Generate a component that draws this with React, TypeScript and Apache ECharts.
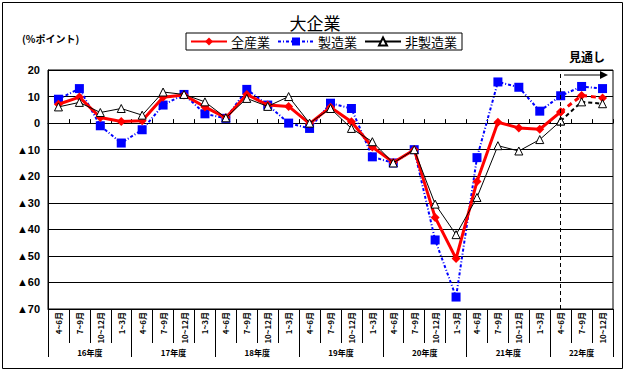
import React, { useEffect, useRef } from 'react';
import * as echarts from 'echarts';

const quarterLabels = ['4~6月', '7~9月', '10~12月', '1~3月'];
const yearLabels = ['16年度', '17年度', '18年度', '19年度', '20年度', '21年度', '22年度'];
const yearQuarterCounts = [4, 4, 4, 4, 4, 4, 3];
const categories = yearQuarterCounts.flatMap((n) => quarterLabels.slice(0, n));

const allIndustries = [7.1, 9.8, 2.1, 0.6, 0.9, 9.7, 10.6, 6.1, 2, 10.8, 6.8, 6.3, -0.2, 6, 0.5, -9, -14.8, -10, -35.5, -51, -22, 0.3, -1.8, -2.3, 4.2, 10.4, 9.5];
const manufacturing = [9, 13, -1, -7.5, -2.5, 6.8, 10.8, 3.5, 1.8, 12.7, 6.8, 0, -2, 7.5, 5.5, -12.7, -15, -10, -44, -65.5, -13, 15.5, 13.5, 4.5, 10.3, 13.8, 13];
const nonManufacturing = [6.1, 7.8, 4, 5.5, 3, 11.7, 10.8, 8, 2, 9.3, 6.3, 10, 0, 5.5, -2, -7, -15, -10, -30.5, -42, -28, -8.5, -10.5, -6.2, 0.8, 8, 7.3];

const forecastStart = 24;
const yMin = -70;
const yMax = 20;
const yInterval = 10;

const FONT = '"Noto Sans CJK JP", "Noto Sans", sans-serif';

const yearBoundaries: number[] = [0];
yearQuarterCounts.forEach((n) => yearBoundaries.push(yearBoundaries[yearBoundaries.length - 1] + n));
const yearCenters = yearQuarterCounts.map((n, i) => yearBoundaries[i] + n / 2);

const actual = (arr: number[]) => arr.map((v, i) => (i <= forecastStart ? v : null));
const forecast = (arr: number[]) => arr.map((v, i) => (i >= forecastStart ? v : null));

export default function App() {
  const ref = useRef<HTMLDivElement>(null);
  useEffect(() => {
    if (!ref.current) return;
    const chart = echarts.init(ref.current, undefined, { renderer: 'svg' });
    const red = '#ff0000';
    const blue = '#0000ff';
    const black = '#000000';
    chart.setOption({
      animation: false,
      backgroundColor: '#ffffff',
      textStyle: { fontFamily: FONT },
      title: {
        text: '大企業',
        left: 'center',
        top: 9,
        textStyle: { fontSize: 17, fontWeight: 'normal', color: '#000', fontFamily: FONT },
      },
      legend: {
        data: ['全産業', '製造業', '非製造業'],
        left: 186,
        top: 33,
        padding: [2, 5, 2, 4],
        borderColor: '#000',
        borderWidth: 1,
        itemWidth: 36,
        itemHeight: 10,
        itemGap: 7,
        textStyle: { fontSize: 13, color: '#000', fontFamily: FONT, padding: [0, 0, 0, -1] },
      },
      grid: {
        left: 48,
        right: 17,
        top: 70,
        bottom: 62,
        show: true,
        borderColor: '#000',
        borderWidth: 1,
        containLabel: false,
      },
      xAxis: [
        {
          type: 'category',
          data: categories,
          position: 'bottom',
          boundaryGap: true,
          axisLine: { show: true, onZero: false, lineStyle: { color: black, width: 1 } },
          axisTick: { show: true, interval: 0, length: 34, lineStyle: { color: black, width: 1 } },
          axisLabel: {
            rotate: 90,
            interval: 0,
            fontSize: 8,
            fontWeight: 'bold',
            color: '#000',
            margin: 3,
            fontFamily: FONT,
          },
          splitLine: { show: false },
        },
        {
          type: 'value',
          min: 0,
          max: categories.length,
          position: 'bottom',
          axisLine: { show: false, onZero: false },
          axisTick: {
            show: true,
            length: 48,
            customValues: yearBoundaries,
            lineStyle: { color: black, width: 1 },
          },
          axisLabel: {
            show: true,
            customValues: yearCenters,
            margin: 39,
            fontSize: 8,
            fontWeight: 'bold',
            color: '#000',
            fontFamily: FONT,
            formatter: (v: number) => {
              const idx = yearCenters.findIndex((c) => Math.abs(c - v) < 1e-6);
              return idx >= 0 ? yearLabels[idx] : '';
            },
          },
          splitLine: { show: false },
        },
        {
          type: 'category',
          data: categories,
          position: 'bottom',
          boundaryGap: true,
          axisLine: { show: true, onZero: true, lineStyle: { color: black, width: 1 } },
          axisTick: { show: true, interval: 0, inside: true, length: 4, lineStyle: { color: black, width: 1 } },
          axisLabel: { show: false },
          splitLine: { show: false },
        },
      ],
      yAxis: {
        type: 'value',
        min: yMin,
        max: yMax,
        interval: yInterval,
        axisLine: { show: true, lineStyle: { color: black } },
        axisTick: { show: false },
        axisLabel: {
          fontSize: 11,
          fontWeight: 'bold',
          color: '#000',
          margin: 8,
          fontFamily: '"Liberation Sans", "DejaVu Sans", sans-serif',
          formatter: (v: number) => (v < 0 ? '▲' + Math.abs(v) : String(v)),
        },
        splitLine: { show: true, lineStyle: { color: black, width: 1 } },
      },
      series: [
        {
          name: '全産業',
          type: 'line',
          data: actual(allIndustries),
          symbol: 'diamond',
          symbolSize: 9,
          lineStyle: { color: red, width: 3 },
          itemStyle: { color: red },
          z: 3,
        },
        {
          name: '全産業見通し',
          type: 'line',
          data: forecast(allIndustries),
          symbol: 'diamond',
          symbolSize: 9,
          lineStyle: { color: red, width: 3, type: [5, 4] },
          itemStyle: { color: red },
          z: 3,
        },
        {
          name: '製造業',
          type: 'line',
          data: manufacturing,
          symbol: 'rect',
          symbolSize: 9,
          lineStyle: { color: blue, width: 2, type: [3, 2, 1, 2] },
          itemStyle: { color: blue },
          z: 2,
          markLine: {
            silent: true,
            symbol: ['none', 'none'],
            label: { show: false },
            lineStyle: { color: black, width: 1, type: [4, 3] },
            data: [{ xAxis: forecastStart }],
          },
        },
        {
          name: '非製造業',
          type: 'line',
          data: actual(nonManufacturing),
          symbol: 'triangle',
          symbolSize: 8,
          lineStyle: { color: black, width: 1 },
          itemStyle: { color: '#fff', borderColor: black, borderWidth: 1 },
          z: 4,
        },
        {
          name: '非製造業見通し',
          type: 'line',
          data: forecast(nonManufacturing),
          symbol: 'triangle',
          symbolSize: 8,
          lineStyle: { color: black, width: 2, type: [4, 3] },
          itemStyle: { color: '#fff', borderColor: black, borderWidth: 1 },
          z: 4,
        },
      ],
      graphic: [
        {
          type: 'rect',
          shape: { x: 2.5, y: 2.5, width: 620, height: 366 },
          style: { fill: 'none', stroke: '#000', lineWidth: 1 },
          silent: true,
        },
        {
          type: 'text',
          left: 22,
          top: 33,
          style: { text: '(%ポイント)', fill: '#000', font: 'bold 10px ' + FONT },
        },
        {
          type: 'text',
          left: 569,
          top: 50,
          style: { text: '見通し', fill: '#000', font: 'bold 12px ' + FONT },
        },
        {
          type: 'line',
          shape: { x1: 564, y1: 75, x2: 601, y2: 75 },
          style: { stroke: '#000', lineWidth: 1 },
        },
        {
          type: 'polygon',
          shape: { points: [[600, 71], [608, 75], [600, 79]] },
          style: { fill: '#000' },
        },
      ],
    });
    return () => chart.dispose();
  }, []);
  return <div ref={ref} style={{ position: 'fixed', left: 0, top: 0, width: 630, height: 371 }} />;
}
